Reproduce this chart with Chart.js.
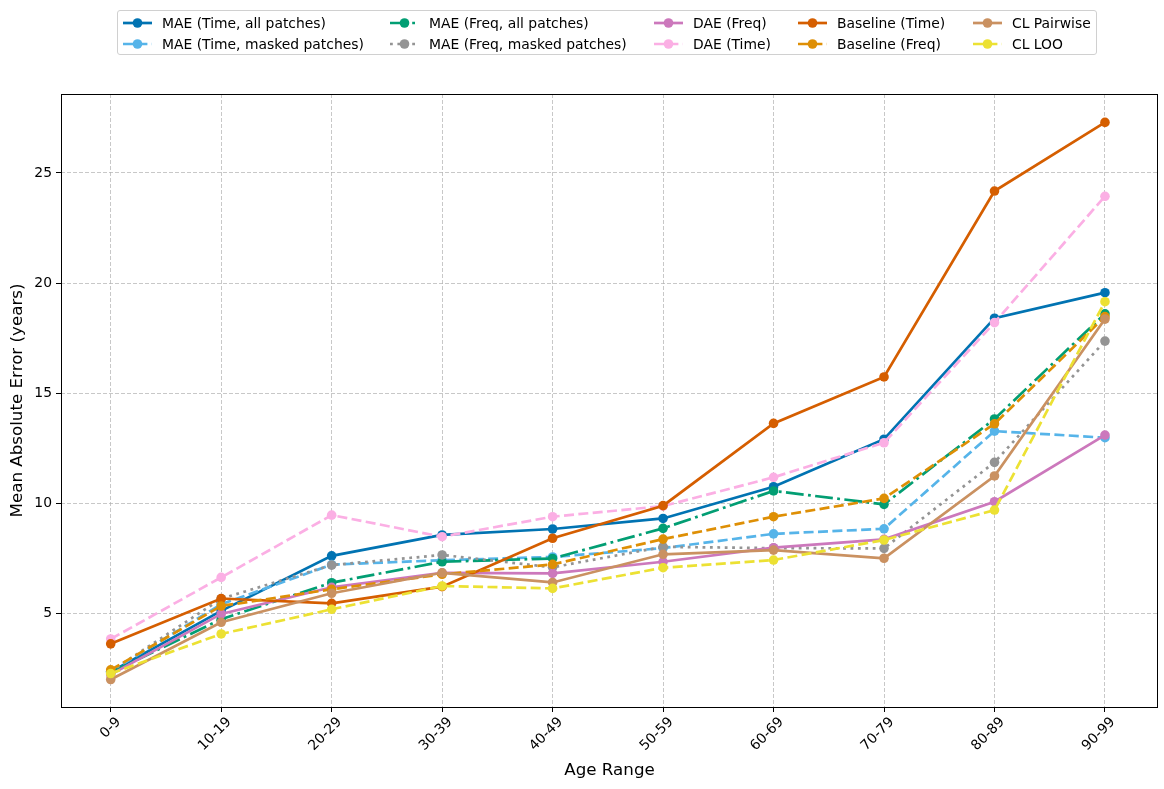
<!DOCTYPE html>
<html>
<head>
<meta charset="utf-8">
<script src="https://cdn.jsdelivr.net/npm/chart.js@4.4.1/dist/chart.umd.min.js"></script>
<style>
  html, body { margin: 0; padding: 0; background: #fff; }
  #wrap { position: relative; width: 1164px; height: 789px; font-family: "DejaVu Sans", sans-serif; }
  #legend {
    position: absolute; left: 117px; top: 10px; width: 980px; height: 45px;
    border: 1px solid #d0d0d0; border-radius: 3px; box-sizing: border-box;
    display: grid; grid-auto-flow: column; grid-template-rows: 21px 21px;
    grid-template-columns: 267px 264px 144px 175px auto;
    padding: 1px 0 0 5px; font-size: 13.9px; color: #000;
  }
  .item { display: flex; align-items: center; white-space: nowrap; }
  .item svg { margin-right: 10px; flex: none; }
</style>
</head>
<body>
<div id="wrap">
  <canvas id="chart" width="1164" height="789"></canvas>
  <div id="legend"></div>
</div>
<script>
const ageRanges = ['0-9', '10-19', '20-29', '30-39', '40-49', '50-59', '60-69', '70-79', '80-89', '90-99'];
const yTicks = [5, 10, 15, 20, 25];

const maeTimeAll    = [2.32, 5.10, 7.60, 8.55, 8.82, 9.30, 10.74, 12.90, 18.40, 19.56];
const maeTimeMasked = [2.35, 5.40, 7.20, 7.40, 7.55, 7.95, 8.60, 8.83, 13.27, 12.97];
const maeFreqAll    = [2.30, 4.72, 6.38, 7.33, 7.48, 8.85, 10.55, 9.94, 13.82, 18.60];
const maeFreqMasked = [2.35, 5.65, 7.18, 7.64, 7.08, 8.01, 7.95, 7.94, 11.85, 17.36];
const daeFreq       = [2.20, 4.96, 6.17, 6.83, 6.80, 7.33, 7.97, 8.35, 10.06, 13.09];
const daeTime       = [3.82, 6.62, 9.45, 8.47, 9.38, 9.86, 11.17, 12.74, 18.20, 23.94];
const baselineTime  = [3.60, 5.66, 5.44, 6.20, 8.40, 9.88, 13.62, 15.73, 24.18, 27.30];
const baselineFreq  = [2.42, 5.32, 6.08, 6.76, 7.21, 8.36, 9.38, 10.21, 13.60, 18.47];
const clPairwise    = [1.98, 4.58, 5.90, 6.83, 6.39, 7.67, 7.86, 7.49, 11.23, 18.36];
const clLoo         = [2.25, 4.05, 5.17, 6.23, 6.12, 7.06, 7.41, 8.32, 9.68, 19.15];

// matplotlib-like dash patterns for lw ~2.7px
const DASHED = [10, 4.4];
const DASHDOT = [17.8, 4.4, 2.8, 4.4];
const DOTTED = [2.8, 4.6];

const series = [
  { label: 'MAE (Time, all patches)',      data: maeTimeAll,    color: '#0173B2', dash: [] },
  { label: 'MAE (Time, masked patches)',   data: maeTimeMasked, color: '#56B4E9', dash: DASHED },
  { label: 'MAE (Freq, all patches)',      data: maeFreqAll,    color: '#029E73', dash: DASHDOT },
  { label: 'MAE (Freq, masked patches)',   data: maeFreqMasked, color: '#949494', dash: DOTTED },
  { label: 'DAE (Freq)',                   data: daeFreq,       color: '#CC78BC', dash: [] },
  { label: 'DAE (Time)',                   data: daeTime,       color: '#FBAFE4', dash: DASHED },
  { label: 'Baseline (Time)',              data: baselineTime,  color: '#D55E00', dash: [] },
  { label: 'Baseline (Freq)',              data: baselineFreq,  color: '#DE8F05', dash: DASHED },
  { label: 'CL Pairwise',                  data: clPairwise,    color: '#CA9161', dash: [] },
  { label: 'CL LOO',                       data: clLoo,         color: '#ECE133', dash: DASHED }
];

const datasets = series.map((s, i) => ({
  label: s.label,
  data: s.data.map((v, j) => ({ x: j, y: v })),
  borderColor: s.color,
  backgroundColor: s.color,
  borderWidth: 2.7,
  borderDash: s.dash,
  pointRadius: 4.8,
  pointBorderWidth: 0,
  pointBackgroundColor: s.color,
  tension: 0,
  // later series on top, like matplotlib
  order: series.length - i
}));

// black frame around the plot area
const framePlugin = {
  id: 'frame',
  afterDraw(chart) {
    const { ctx, chartArea: a } = chart;
    ctx.save();
    ctx.strokeStyle = '#000';
    ctx.lineWidth = 1;
    ctx.strokeRect(a.left + 0.5, a.top + 0.5, a.right - a.left - 1, a.bottom - a.top);
    ctx.restore();
  }
};

const tickFont = { family: 'DejaVu Sans', size: 13.9 };
const gridOpts = {
  color: 'rgba(176,176,176,0.7)',
  lineWidth: 1,
  tickColor: '#000',
  tickBorderDash: [],
  tickLength: 5,
  tickWidth: 1
};
const borderOpts = { display: false, dash: [4, 2] };

const chart = new Chart(document.getElementById('chart'), {
  type: 'line',
  data: { datasets },
  plugins: [framePlugin],
  options: {
    responsive: false,
    animation: false,
    layout: { padding: { left: 0, right: 6, top: 94, bottom: 0 } },
    plugins: { legend: { display: false }, tooltip: { enabled: false } },
    scales: {
      x: {
        type: 'linear',
        min: -0.45,
        max: 9.48,
        afterBuildTicks: scale => { scale.ticks = ageRanges.map((_, i) => ({ value: i })); },
        afterFit: scale => { scale.height = 82; },
        ticks: {
          callback: v => ageRanges[v],
          maxRotation: 45,
          minRotation: 45,
          labelOffset: 8,
          color: '#000',
          font: tickFont,
          padding: 2
        },
        grid: gridOpts,
        border: borderOpts,
        title: {
          display: true,
          text: 'Age Range',
          color: '#000',
          font: { family: 'DejaVu Sans', size: 16.7 },
          padding: { top: 2, bottom: 8 }
        }
      },
      y: {
        type: 'linear',
        min: 0.73,
        max: 28.59,
        afterBuildTicks: scale => { scale.ticks = yTicks.map(v => ({ value: v })); },
        afterFit: scale => { scale.width = 61; },
        ticks: { color: '#000', font: tickFont, padding: 4 },
        grid: gridOpts,
        border: borderOpts,
        title: {
          display: true,
          text: 'Mean Absolute Error (years)',
          color: '#000',
          font: { family: 'DejaVu Sans', size: 16.7 },
          padding: { top: 8, bottom: 0 }
        }
      }
    }
  }
});

// legend laid out in columns like matplotlib's ncol=5
const legend = document.getElementById('legend');
series.forEach(s => {
  const item = document.createElement('div');
  item.className = 'item';
  const dash = s.dash.length ? s.dash.join(',') : 'none';
  item.innerHTML =
    '<svg width="29" height="12">' +
    '<line x1="0" y1="6" x2="29" y2="6" stroke="' + s.color + '" stroke-width="2.7" stroke-dasharray="' + dash + '"/>' +
    '<circle cx="14.5" cy="6" r="4.8" fill="' + s.color + '"/></svg>' +
    '<span>' + s.label + '</span>';
  legend.appendChild(item);
});
</script>
</body>
</html>
